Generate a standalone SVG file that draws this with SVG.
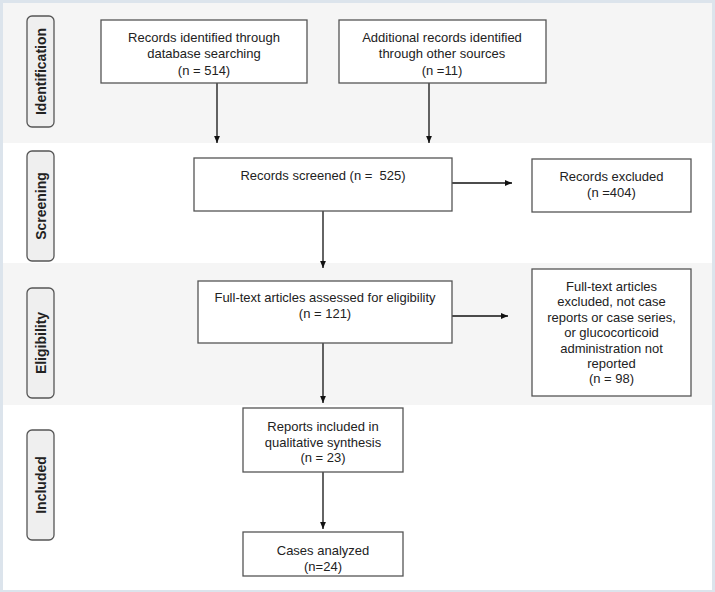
<svg xmlns="http://www.w3.org/2000/svg" width="715" height="592" viewBox="0 0 715 592">
<style>
.box{fill:#fff;stroke:#555;stroke-width:1.3}
.pill{fill:#efefef;stroke:#555;stroke-width:1.3}
.t{font-family:"Liberation Sans",Arial,sans-serif;font-size:13px;fill:#222;text-anchor:middle}
.lab{font-family:"Liberation Sans",Arial,sans-serif;font-size:14px;font-weight:bold;fill:#222;text-anchor:middle}
.ln{stroke:#111;stroke-width:1.3;fill:none;marker-end:url(#ah)}
</style>
<defs>
<marker id="ah" viewBox="0 0 7 7" refX="7" refY="3.5" markerWidth="7" markerHeight="7" markerUnits="userSpaceOnUse" orient="auto">
<path d="M0,0.6 L7,3.5 L0,6.4 Z" fill="#111"/>
</marker>
</defs>
<rect x="0" y="0" width="715" height="592" fill="#dce4ec"/>
<rect x="3" y="3" width="709" height="587" fill="#fff"/>
<rect x="3" y="3" width="709" height="140" fill="#f5f5f5"/>
<rect x="3" y="263" width="709" height="142" fill="#f5f5f5"/>

<g id="lab-identification"><rect class="pill" x="27" y="16" width="27" height="111" rx="5"/><text class="lab" transform="translate(45.5,71.5) rotate(-90)">Identification</text></g>
<g id="lab-screening"><rect class="pill" x="27" y="151" width="27" height="110" rx="5"/><text class="lab" transform="translate(45.5,206) rotate(-90)">Screening</text></g>
<g id="lab-eligibility"><rect class="pill" x="27" y="288" width="27" height="110" rx="5"/><text class="lab" transform="translate(45.5,343) rotate(-90)">Eligibility</text></g>
<g id="lab-included"><rect class="pill" x="27" y="430" width="27" height="110" rx="5"/><text class="lab" transform="translate(45.5,485) rotate(-90)">Included</text></g>

<g id="connectors">
<line class="ln" x1="217" y1="83" x2="217" y2="143"/>
<line class="ln" x1="429" y1="83" x2="429" y2="143"/>
<line class="ln" x1="452" y1="183" x2="512" y2="183"/>
<line class="ln" x1="323" y1="211" x2="323" y2="268"/>
<line class="ln" x1="452" y1="316" x2="508" y2="316"/>
<line class="ln" x1="323" y1="343" x2="323" y2="403"/>
<line class="ln" x1="323" y1="472" x2="323" y2="529"/>
</g>

<g id="n-database"><rect class="box" x="101" y="20" width="206" height="63"/>
<text class="t" x="204" y="42">Records identified through</text>
<text class="t" x="204" y="58">database searching</text>
<text class="t" x="204" y="75">(n = 514)</text></g>

<g id="n-other"><rect class="box" x="339" y="20" width="207" height="63"/>
<text class="t" x="442" y="42">Additional records identified</text>
<text class="t" x="442" y="58">through other sources</text>
<text class="t" x="442" y="75">(n =11)</text></g>

<g id="n-screened"><rect class="box" x="194" y="158" width="258" height="53"/>
<text class="t" x="323" y="180" xml:space="preserve">Records screened (n =  525)</text></g>

<g id="n-excluded"><rect class="box" x="532" y="159" width="159" height="53"/>
<text class="t" x="611.5" y="181">Records excluded</text>
<text class="t" x="611.5" y="197">(n =404)</text></g>

<g id="n-fulltext"><rect class="box" x="198" y="281" width="254" height="62"/>
<text class="t" x="325" y="302">Full-text articles assessed for eligibility</text>
<text class="t" x="325" y="318">(n = 121)</text></g>

<g id="n-ftexcluded"><rect class="box" x="532" y="269" width="159" height="127"/>
<text class="t" x="611.5" y="290.5">Full-text articles</text>
<text class="t" x="611.5" y="306">excluded, not case</text>
<text class="t" x="611.5" y="321.5">reports or case series,</text>
<text class="t" x="611.5" y="337">or glucocorticoid</text>
<text class="t" x="611.5" y="352.5">administration not</text>
<text class="t" x="611.5" y="368">reported</text>
<text class="t" x="611.5" y="383">(n = 98)</text></g>

<g id="n-reports"><rect class="box" x="243" y="408" width="160" height="64"/>
<text class="t" x="323" y="430.5">Reports included in</text>
<text class="t" x="323" y="446.5">qualitative synthesis</text>
<text class="t" x="323" y="462">(n = 23)</text></g>

<g id="n-cases"><rect class="box" x="243" y="532" width="160" height="44"/>
<text class="t" x="323" y="554.5">Cases analyzed</text>
<text class="t" x="323" y="571">(n=24)</text></g>
</svg>
